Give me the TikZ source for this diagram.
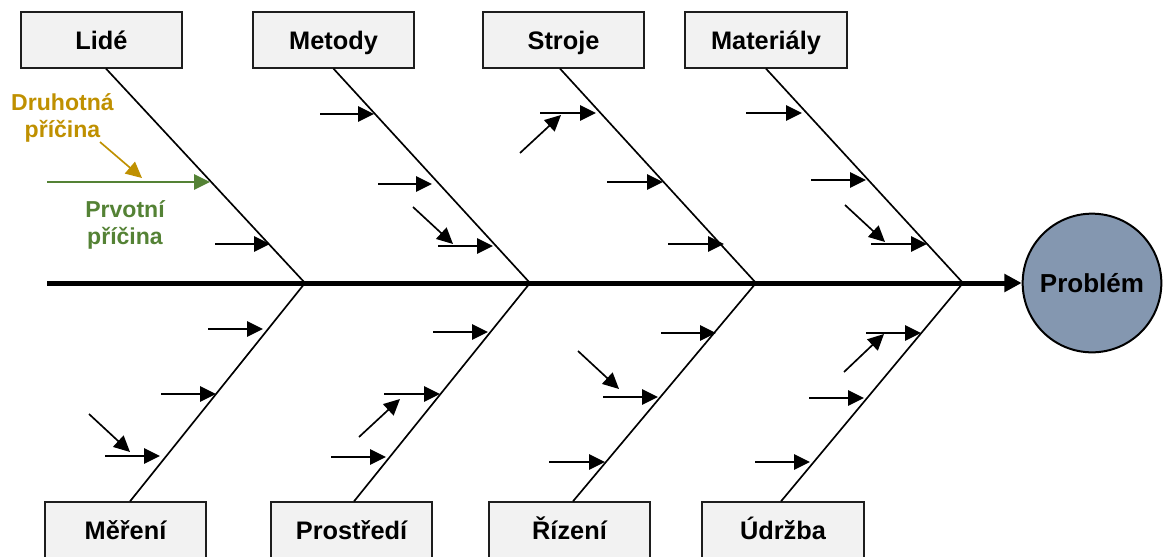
\documentclass[tikz,border=0pt]{standalone}
\usepackage{fontspec}
\setmainfont{Liberation Sans}
\usetikzlibrary{arrows.meta}
\definecolor{boxfill}{RGB}{242,242,242}
\definecolor{boxline}{RGB}{30,30,30}
\definecolor{gold}{RGB}{191,144,0}
\definecolor{leaf}{RGB}{84,130,53}
\definecolor{probfill}{RGB}{132,151,176}
\begin{document}
\begin{tikzpicture}[x=0.75pt,y=-0.75pt,
  category/.style={draw=boxline, fill=boxfill, line width=1.5pt,
    minimum width=121pt, minimum height=41.5pt, inner sep=0pt,
    text height=14.2pt, text depth=0pt,
    font=\bfseries\fontsize{19}{22}\selectfont},
  effect/.style={circle, draw=black, line width=1.5pt, fill=probfill,
    minimum size=104pt, inner sep=0pt, text height=14.5pt, text depth=0pt,
    font=\bfseries\fontsize{19.5}{22}\selectfont},
  bone/.style={line width=1.25pt},
  spine/.style={line width=3.75pt, -{Triangle[length=13pt,width=13pt]}},
  cause/.style={line width=1.25pt, -{Triangle[length=12pt,width=11.5pt]}},
  note/.style={font=\bfseries\fontsize{17.3}{20.3}\selectfont, align=center, inner sep=0pt}]
\useasboundingbox (0,0) rectangle (1164,557);

% category boxes
\node[category] (lide)      at (101.5,40) {Lidé};
\node[category] (metody)    at (333.5,40) {Metody};
\node[category] (stroje)    at (563.5,40) {Stroje};
\node[category] (materialy) at (766,40)   {Materiály};
\node[category] (mereni)    at (125.5,530) {Měření};
\node[category] (prostredi) at (351.5,530) {Prostředí};
\node[category] (rizeni)    at (569.5,530) {Řízení};
\node[category] (udrzba)    at (783,530)   {Údržba};

% effect
\node[effect] (problem) at (1092,283) {Problém};

% main spine
\coordinate (tail) at (47,283);
\coordinate (j1) at (305,283);
\coordinate (j2) at (530,283);
\coordinate (j3) at (756,283);
\coordinate (j4) at (963,283);
\draw[spine] (tail) -- (problem.west);

% bones
\draw[bone] ([xshift=3.4pt]lide.south) -- (j1);
\draw[bone] (metody.south) -- (j2);
\draw[bone] ([xshift=-2.6pt]stroje.south) -- (j3);
\draw[bone] (materialy.south) -- (j4);
\draw[bone] ([xshift=3.4pt]mereni.north) -- (j1);
\draw[bone] ([xshift=1.9pt]prostredi.north) -- (j2);
\draw[bone] ([xshift=2.6pt]rizeni.north) -- (j3);
\draw[bone] ([xshift=-1.5pt]udrzba.north) -- (j4);

% horizontal causes
\foreach \a/\y/\b in {215/244/270,
  320/114/374, 378/184/432, 438/246/493,
  540/113/596, 607/182/663, 668/244/724,
  746/113/802, 811/180/866, 871/244/927,
  208/329/263, 161/394/216, 105/456/160,
  433/332/488, 384/394/440, 331/457/386,
  661/333/716, 603/397/658, 549/462/605,
  866/333/921, 809/398/864, 755/462/810}
  \draw[cause] (\a,\y) -- (\b,\y);

% sub-causes
\foreach \a/\c/\b/\d in {413/207/453/244, 520/153/561/115, 845/205/885/242,
  89/414/130/452, 359/437/400/399, 578/351/619/389, 844/372/884/334}
  \draw[cause] (\a,\c) -- (\b,\d);

% legend
\node[note, text=gold] (druhotna) at (62.5,118) {Druhotná\\příčina};
\node[note, text=leaf] (prvotni) at (125,225) {Prvotní\\příčina};
\draw[cause, draw=leaf, fill=leaf] (47,182) -- (210,182);
\draw[cause, draw=gold, fill=gold] (100,142) -- (142,178);
\end{tikzpicture}
\end{document}
